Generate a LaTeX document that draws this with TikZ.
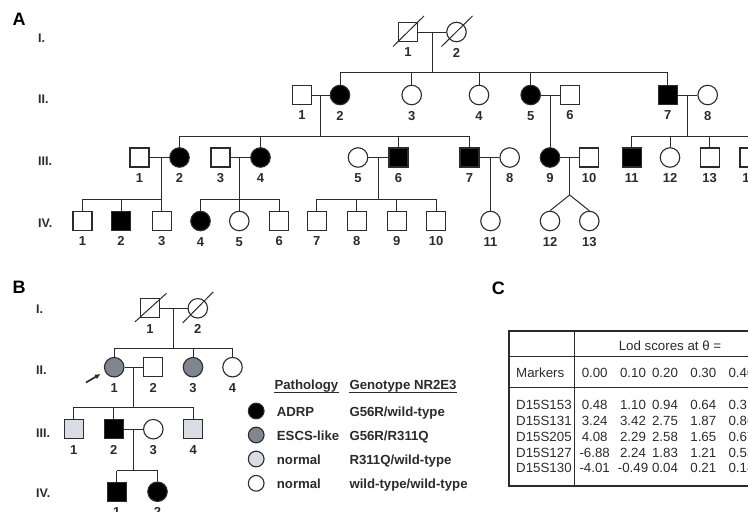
\documentclass[tikz,border=0pt]{standalone}
\usepackage{fontspec}
\setmainfont{Liberation Sans}
\usetikzlibrary{calc,arrows.meta}
\definecolor{lc}{HTML}{2B2B2B}
\definecolor{escs}{HTML}{7F868D}
\definecolor{carr}{HTML}{D9DCE3}
\begin{document}
\begin{tikzpicture}[x=1pt,y=-1pt,
  sym/.style={draw=lc,line width=1.1pt,inner sep=0pt,fill=white},
  sq/.style={sym,rectangle,minimum size=19pt},
  ci/.style={sym,circle,minimum size=19.5pt},
  aff/.style={fill=black},
  esc/.style={fill=escs},
  car/.style={fill=carr},
  nl/.style={font=\fontsize{13}{13}\selectfont\bfseries,text=lc,inner sep=0pt,text height=9.3pt,text depth=0pt},
  every label/.style={nl},
  label distance=5.3pt,
  gen/.style={font=\fontsize{12.5}{12.5}\selectfont\bfseries,text=lc,anchor=west,inner sep=0pt,text height=9pt,text depth=0pt},
  pan/.style={font=\fontsize{18}{18}\selectfont\bfseries,inner sep=0pt,text height=12.9pt,text depth=0pt},
  con/.style={draw=lc,line width=1pt},
  leg/.style={font=\fontsize{13.2}{13.2}\selectfont\bfseries,text=lc,inner sep=0pt,anchor=base west},
  tt/.style={font=\fontsize{13.3}{13.3}\selectfont,text=lc,inner sep=0pt,text height=9.5pt,text depth=0pt},
  tl/.style={draw=lc,line width=1pt}
]
\useasboundingbox (0,0) rectangle (748,512);

% ================= Panel A =================
\node[pan] (pA) at (19,19.5) {A};
\node[gen] (gAI) at (38,38) {I.};
\node[gen] (gAII) at (38,98.5) {II.};
\node[gen] (gAIII) at (38,161) {III.};
\node[gen] (gAIV) at (38,223.3) {IV.};

% Row I
\node[sq,label=below:1] (aI1) at (408,32) {};
\node[ci,label=below:2] (aI2) at (456.5,32) {};
\draw[con] (aI1) -- (aI2);
\draw[con] ($(aI1)+(-15,14.5)$) -- ($(aI1)+(16,-16)$);
\draw[con] ($(aI2)+(-15,14.5)$) -- ($(aI2)+(16,-16)$);
\coordinate (dI) at ($(aI1.east)!.5!(aI2.west)$);
\coordinate (sII) at ($(dI)+(0,40)$);
\draw[con] (dI) -- (sII);

% Row II
\node[sq,label=below:1] (aII1) at (302,95) {};
\node[ci,aff,label=below:2] (aII2) at (340,95) {};
\node[ci,label=below:3] (aII3) at (411.7,95) {};
\node[ci,label=below:4] (aII4) at (479,95) {};
\node[ci,aff,label=below:5] (aII5) at (530.7,95) {};
\node[sq,label=below:6] (aII6) at (570,95) {};
\node[sq,aff,label=below:7] (aII7) at (667.7,95) {};
\node[ci,label=below:8] (aII8) at (707.7,95) {};
\draw[con] (aII2.north |- sII) -- (aII7.north |- sII);
\foreach \c in {aII2,aII3,aII4,aII5,aII7} \draw[con] (\c.north) -- (\c.north |- sII);
\draw[con] (aII1) -- (aII2);
\draw[con] (aII5) -- (aII6);
\draw[con] (aII7) -- (aII8);

% Row III
\node[sq,label=below:1] (aIII1) at (139.5,157.5) {};
\node[ci,aff,label=below:2] (aIII2) at (179.5,157.5) {};
\node[sq,label=below:3] (aIII3) at (220.5,157.5) {};
\node[ci,aff,label=below:4] (aIII4) at (260.5,157.5) {};
\node[ci,label=below:5] (aIII5) at (358,157.5) {};
\node[sq,aff,label=below:6] (aIII6) at (398.5,157.5) {};
\node[sq,aff,label=below:7] (aIII7) at (469.5,157.5) {};
\node[ci,label=below:8] (aIII8) at (509.7,157.5) {};
\node[ci,aff,label=below:9] (aIII9) at (550,157.5) {};
\node[sq,label=below:10] (aIII10) at (589,157.5) {};
\node[sq,aff,label=below:11] (aIII11) at (631.7,157.5) {};
\node[ci,label=below:12] (aIII12) at (670,157.5) {};
\node[sq,label=below:13] (aIII13) at (709.7,157.5) {};
\node[sq,label=below:14] (aIII14) at (749.5,157.5) {};

\coordinate (dII12) at ($(aII1.east)!.5!(aII2.west)$);
\coordinate (sIIIa) at ($(dII12)+(0,41)$);
\draw[con] (dII12) -- (sIIIa);
\draw[con] (aIII2.north |- sIIIa) -- (aIII7.north |- sIIIa);
\foreach \c in {aIII2,aIII4,aIII6,aIII7} \draw[con] (\c.north) -- (\c.north |- sIIIa);

\coordinate (dII56) at ($(aII5.east)!.5!(aII6.west)$);
\draw[con] (dII56) -- (dII56 |- aIII9.north);

\coordinate (dII78) at ($(aII7.east)!.5!(aII8.west)$);
\coordinate (sIIIb) at ($(dII78)+(0,41)$);
\draw[con] (dII78) -- (sIIIb);
\draw[con] (aIII11.north |- sIIIb) -- (aIII14.north |- sIIIb);
\foreach \c in {aIII11,aIII12,aIII13,aIII14} \draw[con] (\c.north) -- (\c.north |- sIIIb);

\draw[con] (aIII1) -- (aIII2);
\draw[con] (aIII3) -- (aIII4);
\draw[con] (aIII5) -- (aIII6);
\draw[con] (aIII7) -- (aIII8);
\draw[con] (aIII9) -- (aIII10);

% Row IV
\node[sq,label=below:1] (aIV1) at (82.5,221) {};
\node[sq,aff,label=below:2] (aIV2) at (121,221) {};
\node[sq,label=below:3] (aIV3) at (161.7,221) {};
\node[ci,aff,label=below:4] (aIV4) at (200.5,221) {};
\node[ci,label=below:5] (aIV5) at (239.3,221) {};
\node[sq,label=below:6] (aIV6) at (279.3,221) {};
\node[sq,label=below:7] (aIV7) at (316.7,221) {};
\node[sq,label=below:8] (aIV8) at (356.7,221) {};
\node[sq,label=below:9] (aIV9) at (396.7,221) {};
\node[sq,label=below:10] (aIV10) at (436,221) {};
\node[ci,label=below:11] (aIV11) at (490.5,221) {};
\node[ci,label=below:12] (aIV12) at (550,221) {};
\node[ci,label=below:13] (aIV13) at (589.3,221) {};

\coordinate (dIII12) at (aIV3 |- aIII1);
\coordinate (sIVa) at ($(dIII12)+(0,41.8)$);
\draw[con] (dIII12) -- (sIVa);
\draw[con] (aIV1.north |- sIVa) -- (aIV3.north |- sIVa);
\foreach \c in {aIV1,aIV2,aIV3} \draw[con] (\c.north) -- (\c.north |- sIVa);

\coordinate (dIII34) at (aIV5 |- aIII3);
\coordinate (sIVb) at ($(dIII34)+(0,41.8)$);
\draw[con] (dIII34) -- (sIVb);
\draw[con] (aIV4.north |- sIVb) -- (aIV6.north |- sIVb);
\foreach \c in {aIV4,aIV5,aIV6} \draw[con] (\c.north) -- (\c.north |- sIVb);

\coordinate (dIII56) at ($(aIII5.east)!.5!(aIII6.west)$);
\coordinate (sIVc) at ($(dIII56)+(0,41.8)$);
\draw[con] (dIII56) -- (sIVc);
\draw[con] (aIV7.north |- sIVc) -- (aIV10.north |- sIVc);
\foreach \c in {aIV7,aIV8,aIV9,aIV10} \draw[con] (\c.north) -- (\c.north |- sIVc);

\coordinate (dIII78) at (aIV11 |- aIII7);
\draw[con] (dIII78) -- (aIV11.north);

\coordinate (dIII910) at ($(aIII9.east)!.5!(aIII10.west)$);
\coordinate (tw) at ($(dIII910)+(0,37.5)$);
\draw[con] (dIII910) -- (tw);
\draw[con] (tw) -- (aIV12.north);
\draw[con] (tw) -- (aIV13.north);

% ================= Panel B =================
\node[pan] (pB) at (19,287.5) {B};
\node[gen] (gBI) at (36,309) {I.};
\node[gen] (gBII) at (36,370) {II.};
\node[gen] (gBIII) at (36,433) {III.};
\node[gen] (gBIV) at (36,493.3) {IV.};

\node[sq,label=below:1] (bI1) at (150,308.3) {};
\node[ci,label=below:2] (bI2) at (197.8,308.3) {};
\draw[con] (bI1) -- (bI2);
\draw[con] ($(bI1)+(-15,13.5)$) -- ($(bI1)+(16.5,-15)$);
\draw[con] ($(bI2)+(-15,14.5)$) -- ($(bI2)+(15.5,-16.5)$);
\coordinate (dBI) at ($(bI1.east)!.5!(bI2.west)$);
\coordinate (sBII) at ($(dBI)+(0,40)$);
\draw[con] (dBI) -- (sBII);

\node[ci,esc,label=below:1] (bII1) at (114.2,367.2) {};
\node[sq,label=below:2] (bII2) at (153.3,367.2) {};
\node[ci,esc,label=below:3] (bII3) at (193,367.2) {};
\node[ci,label=below:4] (bII4) at (232.5,367.2) {};
\draw[con] (bII1.north |- sBII) -- (bII4.north |- sBII);
\foreach \c in {bII1,bII3,bII4} \draw[con] (\c.north) -- (\c.north |- sBII);
\draw[con] (bII1) -- (bII2);

\coordinate (arS) at (86,382.5);
\coordinate (arE) at (100.5,374);
\draw[draw=lc,line width=1.7pt,-{Latex[length=5.5pt,width=5.5pt]}] (arS) -- (arE);

\node[sq,car,label=below:1] (bIII1) at (73.8,429.2) {};
\node[sq,aff,label=below:2] (bIII2) at (113.8,429.2) {};
\node[ci,label=below:3] (bIII3) at (153.3,429.2) {};
\node[sq,car,label=below:4] (bIII4) at (193.3,429.2) {};
\coordinate (dBII) at ($(bII1.east)!.5!(bII2.west)$);
\coordinate (sBIII) at ($(dBII)+(0,40.1)$);
\draw[con] (dBII) -- (sBIII);
\draw[con] (bIII1.north |- sBIII) -- (bIII4.north |- sBIII);
\foreach \c in {bIII1,bIII2,bIII4} \draw[con] (\c.north) -- (\c.north |- sBIII);
\draw[con] (bIII2) -- (bIII3);

\node[sq,aff,label=below:1] (bIV1) at (116.7,491.7) {};
\node[ci,aff,label=below:2] (bIV2) at (157.5,491.7) {};
\coordinate (dBIII) at ($(bIII2.east)!.5!(bIII3.west)$);
\coordinate (sBIV) at ($(dBIII)+(0,41.3)$);
\draw[con] (dBIII) -- (sBIV);
\draw[con] (bIV1.north |- sBIV) -- (bIV2.north |- sBIV);
\foreach \c in {bIV1,bIV2} \draw[con] (\c.north) -- (\c.north |- sBIV);

% Legend
\node[leg] (lgP) at (274.3,389.5) {Pathology};
\node[leg] (lgG) at (349.3,389.5) {Genotype NR2E3};
\draw[draw=lc,line width=0.9pt] ($(lgP.base west)+(0,3.3)$) -- ($(lgP.base east)+(0,3.3)$);
\draw[draw=lc,line width=0.9pt] ($(lgG.base west)+(0,3.3)$) -- ($(lgG.base east)+(0,3.3)$);
\node[ci,minimum size=15.7pt,aff] (lc1) at (256.2,411) {};
\node[ci,minimum size=15.7pt,esc] (lc2) at (256.2,435) {};
\node[ci,minimum size=15.7pt,car] (lc3) at (256.2,459) {};
\node[ci,minimum size=15.7pt] (lc4) at (256.2,483.3) {};
\node[leg] (lp1) at (276.7,416) {ADRP};
\node[leg] (lp2) at (276.7,440) {ESCS-like};
\node[leg] (lp3) at (276.7,464) {normal};
\node[leg] (lp4) at (276.7,488.3) {normal};
\node[leg] (lg1) at (349.3,416) {G56R/wild-type};
\node[leg] (lg2) at (349.3,440) {G56R/R311Q};
\node[leg] (lg3) at (349.3,464) {R311Q/wild-type};
\node[leg] (lg4) at (349.3,488.3) {wild-type/wild-type};

% ================= Panel C =================
\node[pan] (pC) at (498.3,288.3) {C};
\draw[tl,line width=1.3pt] (509,486) -- (509,331) -- (760,331);
\draw[tl] (574.7,331) -- (574.7,486);
\draw[tl] (509,356) -- (760,356);
\draw[tl] (509,387.3) -- (760,387.3);
\draw[tl,line width=1.9pt] (508.4,486) -- (760,486);

\node[tt] (tLod) at (670,346) {Lod scores at θ =};
\node[tt,anchor=west] (tMk) at (516,372.3) {Markers};
\node[tt] (h1) at (594.7,372.3) {0.00};
\node[tt] (h2) at (633,372.3) {0.10};
\node[tt] (h3) at (665,372.3) {0.20};
\node[tt] (h4) at (703.3,372.3) {0.30};
\node[tt] (h5) at (741.5,372.3) {0.40};

\foreach \nm/\va/\vb/\vc/\vd/\ve/\yy [count=\i] in {
  D15S153/0.48/1.10/0.94/0.64/0.31/405,
  D15S131/3.24/3.42/2.75/1.87/0.86/420.8,
  D15S205/4.08/2.29/2.58/1.65/0.67/436.6,
  D15S127/-6.88/2.24/1.83/1.21/0.53/452.4,
  D15S130/-4.01/-0.49/0.04/0.21/0.18/468.2}{
  \node[tt,anchor=west] (m\i) at (516,\yy) {\nm};
  \node[tt] (v\i a) at (594.7,\yy) {\va};
  \node[tt] (v\i b) at (633,\yy) {\vb};
  \node[tt] (v\i c) at (665,\yy) {\vc};
  \node[tt] (v\i d) at (703.3,\yy) {\vd};
  \node[tt] (v\i e) at (741.5,\yy) {\ve};
}
\end{tikzpicture}
\end{document}
